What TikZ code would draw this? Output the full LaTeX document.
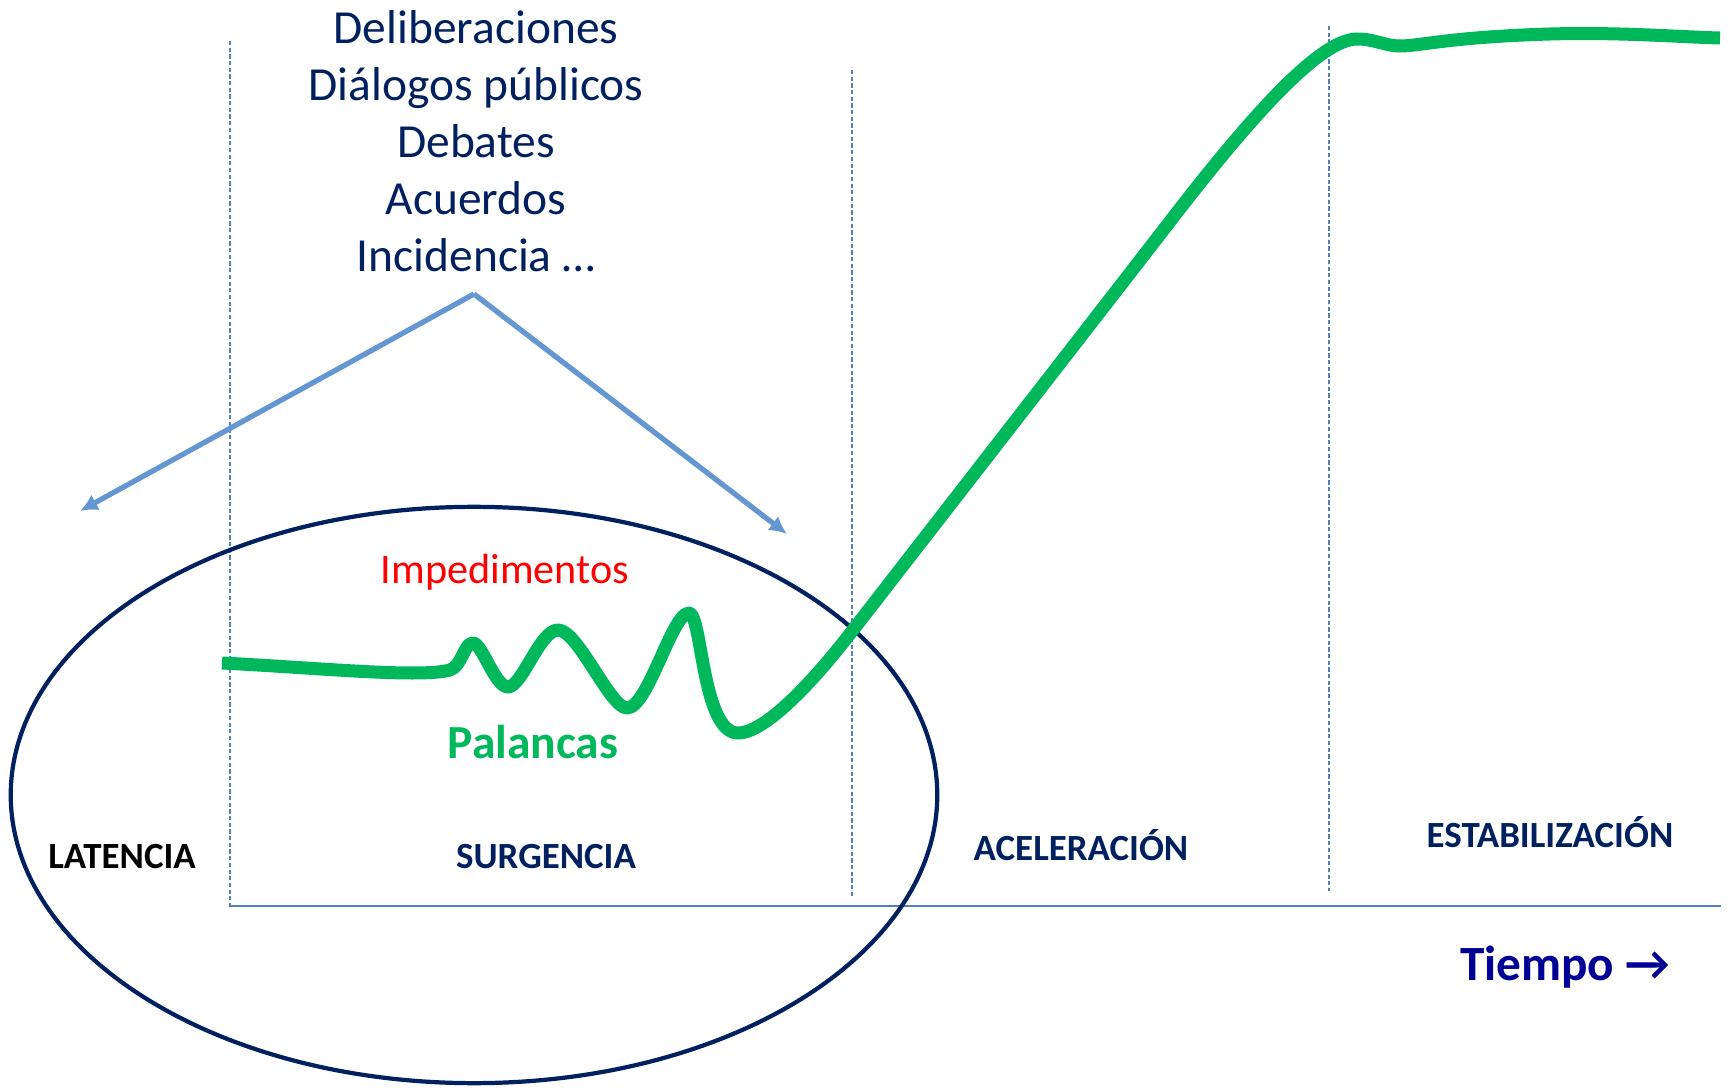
\documentclass[tikz,border=0pt]{standalone}
\usepackage{fontspec}
\setmainfont{Carlito}
\usepackage{xcolor}
\usetikzlibrary{arrows.meta, positioning}
\definecolor{verde}{RGB}{0,184,92}
\definecolor{marino}{RGB}{0,32,96}
\definecolor{azulclaro}{RGB}{100,150,210}
\definecolor{guiazul}{RGB}{79,129,189}
\definecolor{azultiempo}{RGB}{0,0,150}
\tikzset{
  fase/.style={font=\fontsize{10.5}{12}\selectfont\bfseries, text=marino},
  guia/.style={guiazul, line width=0.45pt, dash pattern=on 1.2pt off 0.7pt},
  flecha/.style={azulclaro, line width=1.5pt, -{Latex[length=5pt,width=5pt]}},
}

\begin{document}
\begin{tikzpicture}[x=0.01cm, y=-0.01cm]
  \useasboundingbox (0,0) rectangle (1729,1091);
  % guias verticales y eje del tiempo
  \foreach \xa/\ya/\yb in {230/41/909, 852/70/896, 1329/26/891}
    \draw[guia] (\xa,\ya)--(\xa,\yb);
  \draw[guiazul, line width=0.8pt] (230,906)--(1721,906);
  % textos
  \node[text=marino, align=center, font=\fontsize{13.5}{16.2}\selectfont] (acciones) at (476,141)
    {Deliberaciones\\Diálogos públicos\\Debates\\Acuerdos\\Incidencia …};
  \node[text=red, font=\fontsize{12}{14}\selectfont] (impedimentos) at (505,572) {Impedimentos};
  \node[text=verde, font=\fontsize{13.5}{16}\selectfont\bfseries] (palancas) at (533,742) {Palancas};
  \node[fase, text=black] (latencia) at (122,857) {LATENCIA};
  \node[fase] (surgencia) at (546,857) {SURGENCIA};
  \node[fase] (aceleracion) at (1081,845) {ACELERACIÓN};
  \node[fase] (estabilizacion) at (1550,832) {ESTABILIZACIÓN};
  \node[text=azultiempo, font=\fontsize{14}{16}\selectfont\bfseries] (tiempo) at (1565,967)
    {Tiempo →};
  % flechas
  \coordinate (apex) at (474,294);
  \coordinate (izq) at (80,511);
  \coordinate (der) at (787,534);
  \draw[flecha] (apex) -- (izq);
  \draw[flecha] (apex) -- (der);
  % elipse
  \draw[marino, line width=1.2pt] (474,795) ellipse [x radius=4.63cm, y radius=2.88cm];
  % curva
  \draw[verde, line width=3.7pt, line join=round]
    (222,663) .. controls (320,668) and (420,678) .. (450,670)
    .. controls (462,666) and (464,643) .. (473,643)
    .. controls (482,643) and (495,687) .. (508,687)
    .. controls (522,687) and (540,630) .. (558,630)
    .. controls (578,630) and (610,708) .. (627,708)
    .. controls (648,708) and (672,613) .. (689,613)
    .. controls (702,613) and (702,733) .. (738,733)
    .. controls (765,733) and (813,682) .. (853,630)
    .. controls (960,492) and (1100,312) .. (1175,215)
    .. controls (1250,118) and (1320,39) .. (1357,39)
    .. controls (1375,39) and (1385,46) .. (1400,46)
    .. controls (1420,46) and (1450,37) .. (1550,34)
    .. controls (1620,32) and (1680,37) .. (1720,38);
\end{tikzpicture}
\end{document}
